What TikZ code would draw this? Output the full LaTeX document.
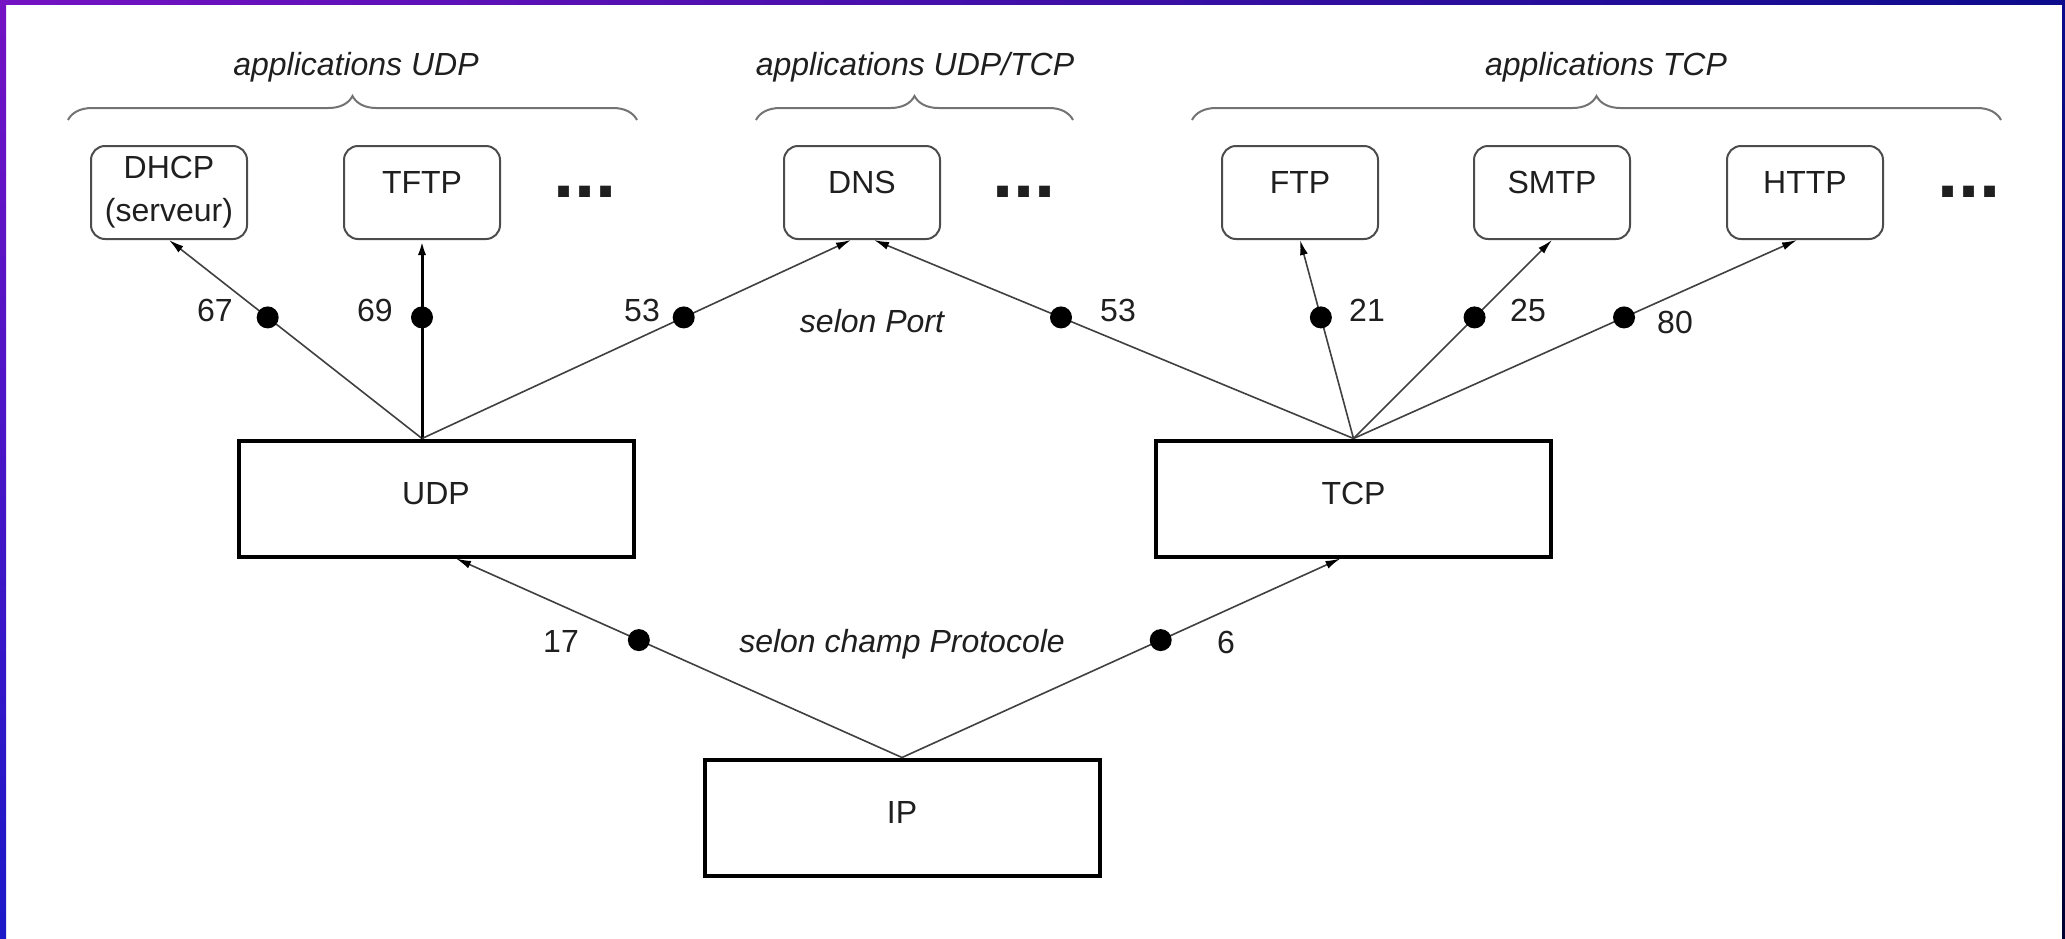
\documentclass[tikz,border=0pt]{standalone}
\usepackage{fontspec}
\setmainfont{Liberation Sans}
\usetikzlibrary{decorations.pathreplacing, arrows.meta}

\definecolor{frameviolet}{RGB}{116,18,196}
\definecolor{frameblue}{RGB}{26,24,200}
\definecolor{framenavy}{RGB}{12,12,140}
\definecolor{framedark}{RGB}{0,0,48}

\begin{document}
\begin{tikzpicture}[x=1pt, y=-1pt,
  every node/.style={font=\fontsize{32}{40}\selectfont, text=black!88},
  appbox/.style={draw=black!70, line width=2pt, rounded corners=14pt,
    minimum width=156pt, minimum height=93pt, inner sep=0pt},
  oneline/.style={text height=23pt, text depth=21pt},
  layerbox/.style={draw=black, line width=4pt, minimum width=395pt,
    minimum height=116pt, inner sep=0pt, text height=23pt, text depth=11pt},
  link/.style={draw=black!75, line width=1.6pt,
    -{Latex[length=15pt,width=8pt,color=black]}},
  heavy/.style={draw=black, line width=3pt},
  portdot/.style={circle, fill=black, minimum size=22pt, inner sep=0pt},
  num/.style={inner sep=0pt},
  note/.style={font=\fontsize{32}{40}\selectfont\itshape, inner sep=0pt},
  ellip/.style={font=\fontsize{76}{80}\selectfont\bfseries, inner sep=0pt, anchor=base},
  groupbrace/.style={draw=black!55, line width=2pt,
    decorate, decoration={brace, amplitude=24pt}}
]
\useasboundingbox (0,0) rectangle (2065,938);
\fill[white] (0,0) rectangle (2065,938);

% coloured frame
\shade[top color=frameviolet, bottom color=frameblue] (0,0) rectangle (6,938);
\shade[left color=frameviolet, right color=framenavy] (0,0) rectangle (2065,4);
\shade[top color=framenavy, bottom color=framedark] (2062,0) rectangle (2065,938);

% application groups
\draw[groupbrace] (68,120) -- (637,120);
\draw[groupbrace] (756,120) -- (1073,120);
\draw[groupbrace] (1192,120) -- (2001,120);
\node[note, anchor=base] (grpudp) at (356,75) {applications UDP};
\node[note, anchor=base] (grpboth) at (915,75) {applications UDP/TCP};
\node[note, anchor=base] (grptcp) at (1606,75) {applications TCP};

% applications
\node[appbox, align=center, font=\fontsize{32}{43}\selectfont] (dhcp) at (169,192.5) {DHCP\\(serveur)};
\node[appbox, oneline] (tftp) at (422,192.5) {TFTP};
\node[ellip] (more1) at (585,197) {...};
\node[appbox, oneline] (dns) at (862,192.5) {DNS};
\node[ellip] (more2) at (1024,197) {...};
\node[appbox, oneline] (ftp) at (1300,192.5) {FTP};
\node[appbox, oneline] (smtp) at (1552,192.5) {SMTP};
\node[appbox, oneline] (http) at (1805,192.5) {HTTP};
\node[ellip] (more3) at (1969,197) {...};

% transport and network layers
\node[layerbox] (udp) at (436,498.5) {UDP};
\node[layerbox] (tcp) at (1353.5,498.5) {TCP};
\node[layerbox] (ip) at (902,817.5) {IP};

% demultiplexing by port
\coordinate (udpout) at (udp.north -| tftp.south);
\draw[link] (udpout) -- node[portdot, pos=0.61] (d67) {} (dhcp.south);
\draw[link, heavy] (udpout) -- node[portdot, pos=0.61] (d69) {} (tftp.south);
\draw[link] (udpout) -- node[portdot, pos=0.61] (d53u) {} ([xshift=-11pt]dns.south);
\draw[link] (tcp.north) -- node[portdot, pos=0.61] (d53t) {} ([xshift=12pt]dns.south);
\draw[link] (tcp.north) -- node[portdot, pos=0.61] (d21) {} (ftp.south);
\draw[link] (tcp.north) -- node[portdot, pos=0.61] (d25) {} (smtp.south);
\draw[link] (tcp.north) -- node[portdot, pos=0.61] (d80) {} ([xshift=-8pt]http.south);

% demultiplexing by protocol field
\draw[link] (ip.north) -- node[portdot, pos=0.59] (d17) {} ([xshift=20pt]udp.south);
\draw[link] (ip.north) -- node[portdot, pos=0.59] (d6) {} ([xshift=-13pt]tcp.south);

% port and protocol numbers
\node[num] (l67) at (215,310.5) {67};
\node[num] (l69) at (375,310.5) {69};
\node[num] (l53u) at (642,310.5) {53};
\node[num] (l53t) at (1118,310.5) {53};
\node[num] (l21) at (1367,310.5) {21};
\node[num] (l25) at (1528,310.5) {25};
\node[num] (l80) at (1675,322) {80};
\node[num] (l17) at (561,641) {17};
\node[num] (l6) at (1226,642) {6};

\node[note, anchor=base] (byport) at (872,332) {selon Port};
\node[note, anchor=base] (byproto) at (902,652) {selon champ Protocole};
\end{tikzpicture}
\end{document}
